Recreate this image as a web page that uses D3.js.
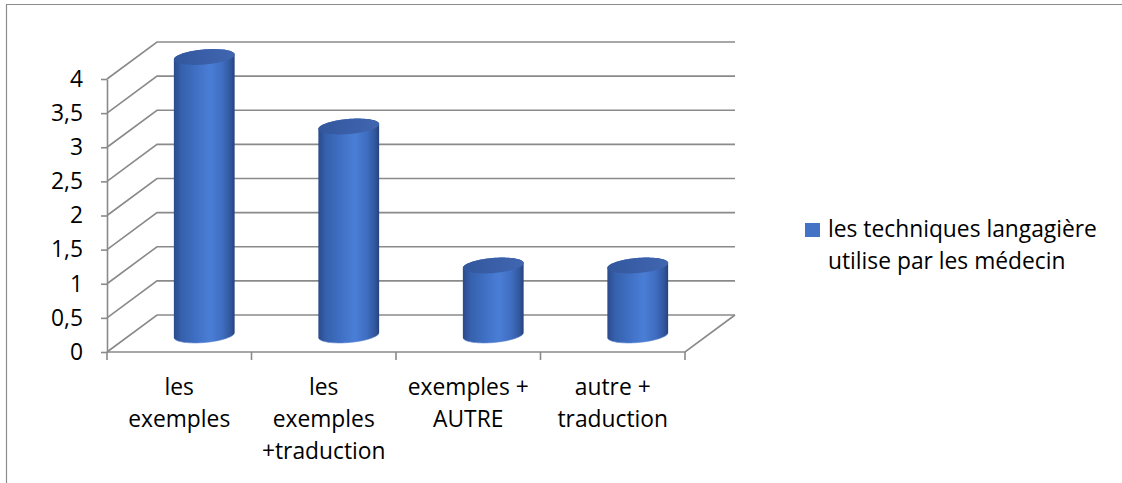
<!DOCTYPE html>
<html>
<head>
<meta charset="utf-8">
<script src="https://cdn.jsdelivr.net/npm/d3@7"></script>
<style>
  html, body { margin: 0; padding: 0; background: #fff; }
  svg { display: block; }
  text { font-family: "Open Sans", Lato, sans-serif; fill: #000; }
</style>
</head>
<body>
<svg id="chart" width="1122" height="483"></svg>
<script>
// Data
const categories = ["les exemples", "les exemples +traduction", "exemples + AUTRE", "autre + traduction"];
const categoryLines = [["les", "exemples"], ["les", "exemples", "+traduction"], ["exemples +", "AUTRE"], ["autre +", "traduction"]];
const values = [4, 3, 1, 1];
const seriesName = ["les techniques langagière", "utilise par les médecin"];
const yTicks = [0, 0.5, 1, 1.5, 2, 2.5, 3, 3.5, 4];
const yTickLabels = ["0", "0,5", "1", "1,5", "2", "2,5", "3", "3,5", "4"];

const FONT = "'Open Sans', Lato, sans-serif";
const FS = 22.8;

const svg = d3.select("#chart");
const W = 1122, H = 483;

// Chart frame (top and left edges of the chart area)
svg.append("path")
  .attr("d", `M6.5,${H} L6.5,4.5 L${W},4.5`)
  .attr("fill", "none").attr("stroke", "#8c8c8c").attr("stroke-width", 1.2);

// Oblique 3D projection: front plane scales + depth offset
const x = d3.scaleBand().domain(categories).range([107, 685]).paddingInner(0).paddingOuter(0);
const y = d3.scaleLinear().domain([0, 4]).range([352, 79]);
const DX = 50, DY = -37;
// Scale at mid-depth, where the cylinders stand
const yMid = d3.scaleLinear().domain([0, 4]).range([335, 57]);

const gridColor = "#8a8a8a";
const x0 = x.range()[0], x1 = x.range()[1];

const walls = svg.append("g").attr("fill", "none").attr("stroke", gridColor).attr("stroke-width", 1.6);
// Gridlines: left-wall diagonal + back-wall horizontal
yTicks.forEach(v => {
  walls.append("path")
    .attr("d", `M${x0},${y(v)} L${x0 + DX},${y(v) + DY} L${x1 + DX},${y(v) + DY}`);
});
// Floor: front edge and right diagonal
walls.append("path").attr("d", `M${x0},${y(0)} L${x1},${y(0)} L${x1 + DX},${y(0) + DY}`);

// Value axis on the front plane
const yAxis = d3.axisLeft(y)
  .tickValues(yTicks)
  .tickFormat((d, i) => yTickLabels[i])
  .tickSize(6).tickSizeOuter(0).tickPadding(18);
const ya = svg.append("g").attr("transform", `translate(${x0},0)`).call(yAxis);
ya.select(".domain").attr("stroke", gridColor).attr("stroke-width", 1.6);
ya.selectAll(".tick line").attr("stroke", gridColor).attr("stroke-width", 1.6);
ya.selectAll(".tick text").attr("font-size", FS).attr("font-family", FONT).attr("fill", "#000");

// Category ticks at band edges
const edges = categories.map(c => x(c)).concat([x1]);
svg.append("g").selectAll("line").data(edges).join("line")
  .attr("x1", d => d).attr("x2", d => d)
  .attr("y1", y(0)).attr("y2", y(0) + 8)
  .attr("stroke", gridColor).attr("stroke-width", 1.6);

// Category labels
const catG = svg.append("g");
categories.forEach((c, i) => {
  const t = catG.append("text")
    .attr("x", x(c) + x.bandwidth() / 2)
    .attr("y", 395)
    .attr("text-anchor", "middle")
    .attr("font-size", FS);
  categoryLines[i].forEach((ln, j) => {
    t.append("tspan").attr("x", x(c) + x.bandwidth() / 2).attr("y", 395 + j * 32).text(ln);
  });
});

// Cylinder gradients
const defs = svg.append("defs");
const bodyGrad = defs.append("linearGradient").attr("id", "cylBody").attr("x1", 0).attr("x2", 1).attr("y1", 0).attr("y2", 0);
[[0, "#2b4a8c"], [0.12, "#3560ab"], [0.35, "#3f6fc3"], [0.6, "#4a7ed6"], [0.8, "#3f6dc0"], [0.93, "#32579e"], [1, "#26427c"]]
  .forEach(([o, c]) => bodyGrad.append("stop").attr("offset", o).attr("stop-color", c));
const topGrad = defs.append("linearGradient").attr("id", "cylTop").attr("x1", 0).attr("x2", 1).attr("y1", 0).attr("y2", 0);
[[0, "#33579c"], [0.5, "#3a5fa8"], [1, "#4166b0"]]
  .forEach(([o, c]) => topGrad.append("stop").attr("offset", o).attr("stop-color", c));

const RX = 30.5, RY = 7.5, TILT = -5 * Math.PI / 180;
function ellPt(cx, cy, t) {
  const ct = Math.cos(t), st = Math.sin(t);
  return [cx + RX * ct * Math.cos(TILT) - RY * st * Math.sin(TILT),
          cy + RX * ct * Math.sin(TILT) + RY * st * Math.cos(TILT)];
}
function arc(cx, cy, a0, a1, n = 40) {
  return d3.range(n + 1).map(k => ellPt(cx, cy, a0 + (a1 - a0) * k / n));
}
const line = d3.line();

const bars = svg.append("g");
values.forEach((v, i) => {
  const cx = x(categories[i]) + x.bandwidth() / 2 + DX / 2;
  const yb = yMid(0), yt = yMid(v);
  // body: front half of the base ellipse, back half of the top ellipse
  const pts = arc(cx, yb, 0, Math.PI).concat(arc(cx, yt, Math.PI, 2 * Math.PI));
  bars.append("path").attr("d", line(pts) + "Z").attr("fill", "url(#cylBody)");
  // faint highlight along the lower rim
  bars.append("path").attr("d", line(arc(cx, yb, 0.15, Math.PI - 0.15)))
    .attr("fill", "none").attr("stroke", "#5b86d2").attr("stroke-width", 1).attr("opacity", 0.6);
  // top cap
  bars.append("path").attr("d", line(arc(cx, yt, 0, 2 * Math.PI, 80)) + "Z").attr("fill", "url(#cylTop)");
});

// Legend
svg.append("rect").attr("x", 805).attr("y", 223).attr("width", 15).attr("height", 14).attr("fill", "#4472c4");
const lg = svg.append("text").attr("font-size", FS);
seriesName.forEach((s, j) => lg.append("tspan").attr("x", 828).attr("y", 237 + j * 32).text(s));
</script>
</body>
</html>
